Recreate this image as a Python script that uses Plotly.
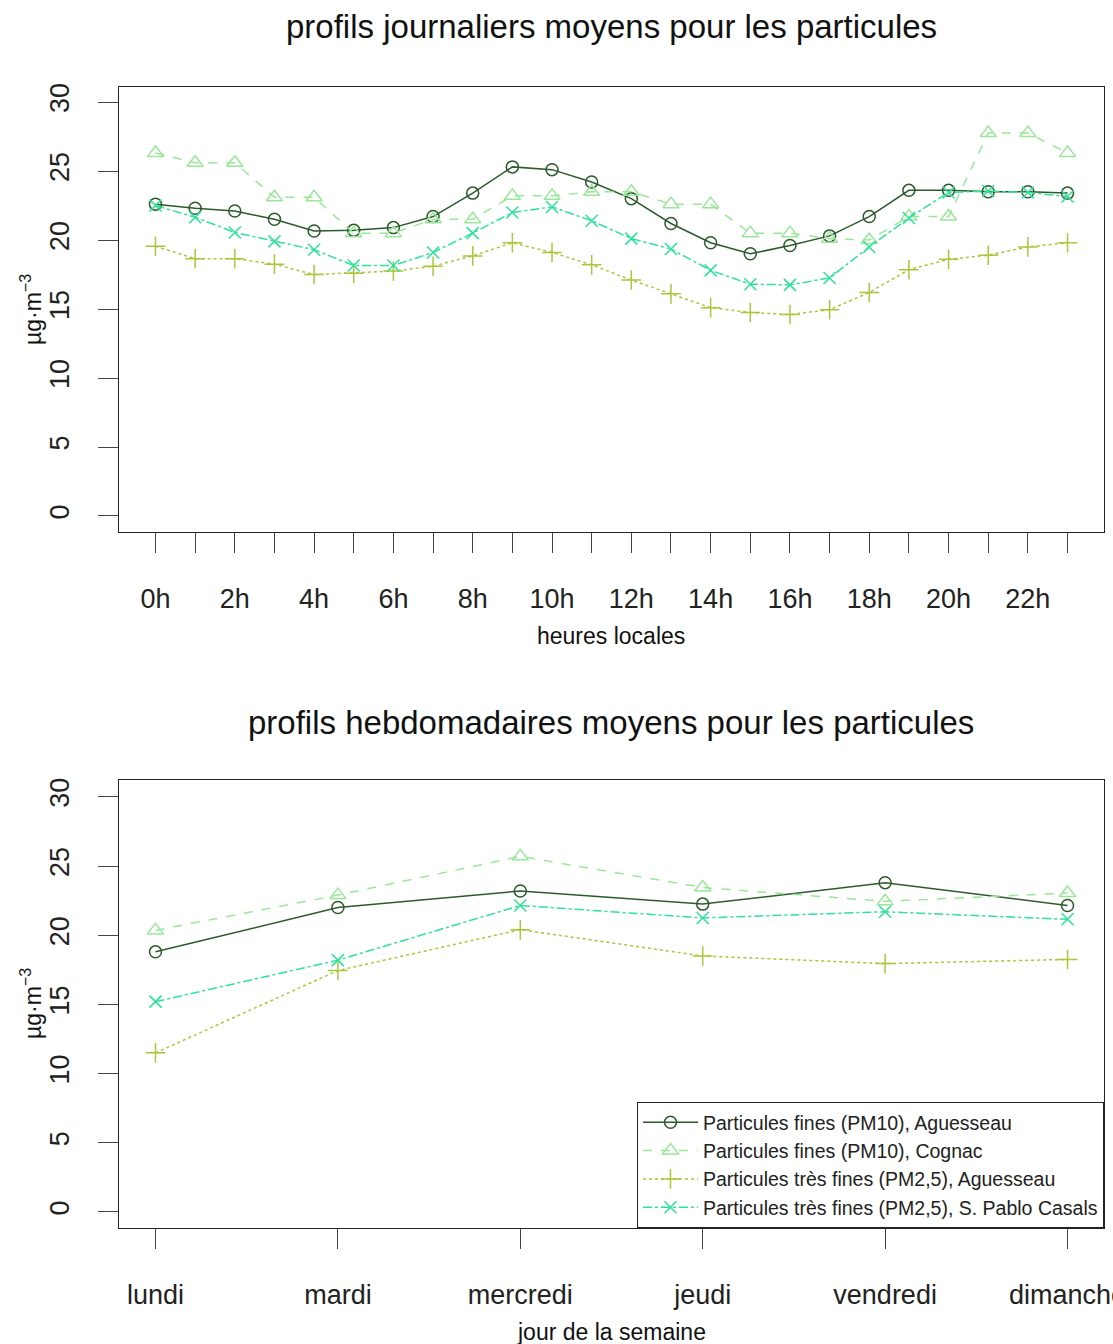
import plotly.graph_objects as go

# ---- data ----
hours = list(range(24))
even_hours = list(range(0, 24, 2))
hour_labels = [f"{h}h" for h in even_hours]

pm10_aguesseau_h = [22.6, 22.3, 22.1, 21.5, 20.65, 20.7, 20.9, 21.7, 23.4, 25.3, 25.1, 24.2,
                    23.0, 21.2, 19.8, 19.0, 19.6, 20.3, 21.7, 23.6, 23.6, 23.5, 23.5, 23.4]
pm10_cognac_h = [26.3, 25.6, 25.6, 23.1, 23.1, 20.5, 20.5, 21.5, 21.5, 23.2, 23.2, 23.5,
                 23.5, 22.6, 22.6, 20.5, 20.5, 20.1, 20.0, 21.7, 21.7, 27.75, 27.75, 26.3]
pm25_aguesseau_h = [19.55, 18.65, 18.65, 18.25, 17.5, 17.6, 17.75, 18.1, 18.85, 19.8, 19.1, 18.2,
                    17.1, 16.1, 15.1, 14.75, 14.6, 14.95, 16.2, 17.85, 18.6, 18.9, 19.5, 19.8]
pm25_casals_h = [22.5, 21.65, 20.55, 19.9, 19.3, 18.15, 18.15, 19.1, 20.5, 22.0, 22.4, 21.4,
                 20.1, 19.35, 17.8, 16.8, 16.75, 17.25, 19.5, 21.6, 23.45, 23.55, 23.45, 23.15]

days = ["lundi", "mardi", "mercredi", "jeudi", "vendredi", "dimanche"]
pm10_aguesseau_d = [18.8, 22.0, 23.2, 22.25, 23.8, 22.15]
pm10_cognac_d = [20.35, 22.9, 25.7, 23.45, 22.45, 23.05]
pm25_aguesseau_d = [11.5, 17.45, 20.4, 18.5, 17.95, 18.25]
pm25_casals_d = [15.2, 18.2, 22.15, 21.25, 21.7, 21.15]

yticks = [0, 5, 10, 15, 20, 25, 30]

series_names = ["Particules fines (PM10), Aguesseau",
                "Particules fines (PM10), Cognac",
                "Particules très fines (PM2,5), Aguesseau",
                "Particules très fines (PM2,5), S. Pablo Casals"]

# ---- styles ----
colors = ["#2B5A2B", "#98E898", "#A8C83A", "#2DE39A"]
dashes = ["solid", "dash", "dot", "dashdot"]
symbols = ["circle-open", "triangle-up-open", "cross-thin-open", "x-thin-open"]
msizes = [12, 14, 14, 12]
FONT = "Liberation Sans, Arial, sans-serif"

W, H = 1113, 1344
def px_x(p):
    return p / W
def px_y(p):
    return 1 - p / H

fig = go.Figure()

top_series = [pm10_aguesseau_h, pm10_cognac_h, pm25_aguesseau_h, pm25_casals_h]
bot_series = [pm10_aguesseau_d, pm10_cognac_d, pm25_aguesseau_d, pm25_casals_d]

for i in range(4):
    fig.add_trace(go.Scatter(
        x=hours, y=top_series[i], mode="lines+markers", name=series_names[i],
        showlegend=False, xaxis="x", yaxis="y",
        line=dict(color=colors[i], width=1.5, dash=dashes[i]),
        marker=dict(symbol=symbols[i], size=msizes[i], color=colors[i],
                    line=dict(width=1.5, color=colors[i]))))

for i in range(4):
    fig.add_trace(go.Scatter(
        x=list(range(len(days))), y=bot_series[i], mode="lines+markers", name=series_names[i],
        showlegend=True, xaxis="x2", yaxis="y2",
        line=dict(color=colors[i], width=1.5, dash=dashes[i]),
        marker=dict(symbol=symbols[i], size=msizes[i], color=colors[i],
                    line=dict(width=1.5, color=colors[i]))))

axis_common = dict(showline=True, linecolor="#222", linewidth=1, mirror=True,
                   showgrid=False, zeroline=False, ticks="outside", ticklen=20,
                   tickcolor="#444", tickwidth=1, automargin=False,
                   ticklabeloverflow="allow",
                   tickfont=dict(family=FONT, size=27, color="#222"))

xdom = [px_x(119), px_x(1104)]
fig.update_layout(
    width=W, height=H,
    margin=dict(l=0, r=0, t=0, b=0),
    paper_bgcolor="white", plot_bgcolor="white",
    showlegend=True,
    xaxis=dict(domain=xdom, anchor="y", range=[-0.92, 23.92],
               tickmode="array", tickvals=even_hours, ticktext=hour_labels,
               minor=dict(tickmode="array", tickvals=hours, ticks="outside", ticklen=20,
                          tickcolor="#444", tickwidth=1, showgrid=False),
               ticklabelstandoff=23, **axis_common),
    yaxis=dict(domain=[px_y(532), px_y(87)], anchor="x", range=[-1.16, 31.09],
               tickmode="array", tickvals=yticks, ticktext=[str(v) for v in yticks],
               tickangle=-90, ticklabelstandoff=18, **axis_common),
    xaxis2=dict(domain=xdom, anchor="y2", range=[-0.2, 5.2],
                tickmode="array", tickvals=list(range(len(days))), ticktext=days,
                ticklabelstandoff=23, **axis_common),
    yaxis2=dict(domain=[px_y(1228), px_y(780)], anchor="x2", range=[-1.16, 31.22],
                tickmode="array", tickvals=yticks, ticktext=[str(v) for v in yticks],
                tickangle=-90, ticklabelstandoff=18, **axis_common),
    legend=dict(x=px_x(1104), y=px_y(1228), xanchor="right", yanchor="bottom",
                bgcolor="white", bordercolor="#222", borderwidth=1,
                font=dict(family=FONT, size=19.5, color="#222"),
                tracegroupgap=0, itemwidth=55),
)

annots = [
    dict(text="profils journaliers moyens pour les particules", x=611 / W, y=px_y(27), size=33),
    dict(text="profils hebdomadaires moyens pour les particules", x=611 / W, y=px_y(722), size=33),
    dict(text="heures locales", x=611 / W, y=px_y(636), size=23),
    dict(text="jour de la semaine", x=611 / W, y=px_y(1332), size=23),
]
for a in annots:
    fig.add_annotation(text=a["text"], x=a["x"], y=a["y"], xref="paper", yref="paper",
                       showarrow=False, xanchor="center", yanchor="middle",
                       font=dict(family=FONT, size=a["size"], color="#111"))

for yc in [310, 1004]:
    fig.add_annotation(text="µg·m<sup>−3</sup>", x=px_x(31), y=px_y(yc), xref="paper", yref="paper",
                       showarrow=False, xanchor="center", yanchor="middle", textangle=-90,
                       font=dict(family=FONT, size=23, color="#111"))

fig.write_html("out.html", config={"displayModeBar": False},
               post_script="document.body.style.margin='0';document.body.style.overflow='hidden';")
